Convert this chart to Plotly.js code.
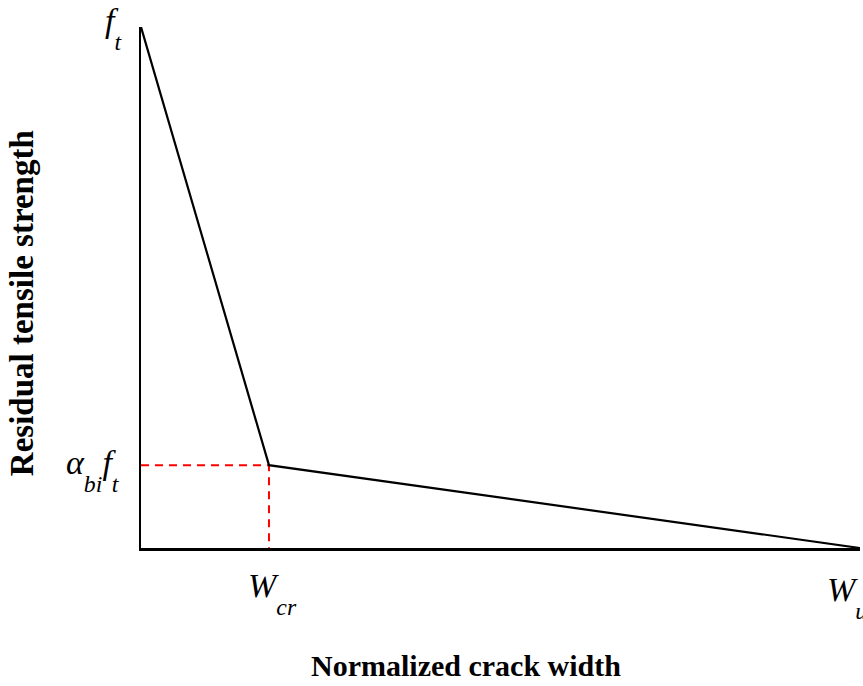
<!DOCTYPE html>
<html>
<head>
<meta charset="utf-8">
<script src="https://cdn.plot.ly/plotly-3.0.1.min.js"></script>
<style>
  html, body { margin: 0; padding: 0; background: #ffffff; }
  #chart { width: 863px; height: 686px; }
</style>
</head>
<body>
<div id="chart"></div>
<script>
// Bilinear tension-softening law: normalized crack width vs residual strength
const crackWidth = [0, 0.178, 1.0];          // 0, w_cr, w_u
const residualStrength = [1.0, 0.159, 0.0];  // f_t, alpha_bi*f_t, 0
const kneeX = [0, 0.178, 0.178];
const kneeY = [0.159, 0.159, 0];
const xTitle = 'Normalized crack width';
const yTitle = 'Residual tensile strength';

const serif = 'Liberation Serif, Times New Roman, serif';
const mainFont = { family: serif, size: 34, color: '#000', style: 'italic' };

// subscript, dropped a little further than the default
const sub = s => '<sub style="baseline-shift:-11px">' + s + '</sub>';
const tickLabels = {
  ft: 'f' + sub('t'),
  alphaFt: 'α' + sub('bi') + 'f' + sub('t'),
  wcr: 'W' + sub('cr'),
  wu: 'W' + sub('u')
};

function label(text, x, y, xanchor, dx, dy) {
  return { x: x, y: y, xref: 'x', yref: 'y', text: text, showarrow: false,
           xanchor: xanchor, yanchor: 'middle', xshift: dx, yshift: dy, font: mainFont };
}

const traces = [
  {
    x: kneeX, y: kneeY, mode: 'lines', hoverinfo: 'skip',
    line: { color: '#ff0000', width: 2, dash: '8px,6px' }
  },
  {
    x: crackWidth, y: residualStrength, mode: 'lines', hoverinfo: 'skip',
    line: { color: '#000000', width: 2.2 }
  }
];

const layout = {
  width: 863, height: 686,
  margin: { l: 141, r: 3, t: 27, b: 138 },
  paper_bgcolor: '#ffffff', plot_bgcolor: '#ffffff',
  showlegend: false,
  xaxis: {
    range: [0, 1], showline: true, linecolor: '#000', linewidth: 2.5,
    showgrid: false, zeroline: false, showticklabels: false, ticks: '', fixedrange: true
  },
  yaxis: {
    range: [0, 1], showline: true, linecolor: '#000', linewidth: 2.5,
    showgrid: false, zeroline: false, showticklabels: false, ticks: '', fixedrange: true
  },
  annotations: [
    label(tickLabels.ft, 0, residualStrength[0], 'right', -17, -1),
    label(tickLabels.alphaFt, 0, kneeY[0], 'right', -19, -5),
    label(tickLabels.wcr, crackWidth[1], 0, 'center', 4, -45),
    label(tickLabels.wu, crackWidth[2], 0, 'center', -13, -49),
    { x: 0.452, y: -0.2246, xref: 'paper', yref: 'paper', text: '<b>' + xTitle + '</b>',
      showarrow: false, xanchor: 'center', yanchor: 'middle',
      font: { family: serif, size: 30, color: '#000' } },
    { x: -0.1655, y: 0.47, xref: 'paper', yref: 'paper', text: '<b>' + yTitle + '</b>',
      showarrow: false, xanchor: 'center', yanchor: 'middle', textangle: -90,
      font: { family: serif, size: 33, color: '#000' } }
  ]
};

Plotly.newPlot('chart', traces, layout, { staticPlot: true, displayModeBar: false });
</script>
</body>
</html>
